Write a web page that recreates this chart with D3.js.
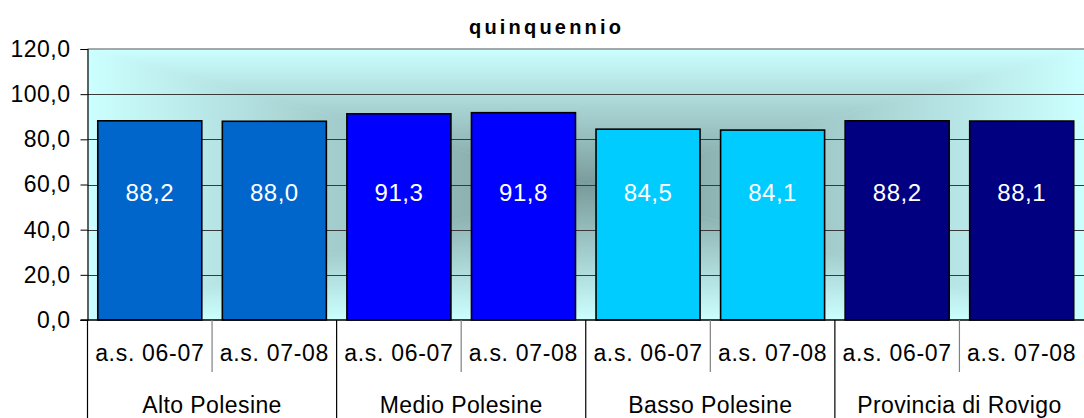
<!DOCTYPE html>
<html><head><meta charset="utf-8">
<script src="https://cdn.jsdelivr.net/npm/d3@7"></script>
<style>
body{margin:0;background:#fff}
svg{display:block}
text{font-family:"Liberation Sans",Arial,sans-serif}
</style></head><body>
<svg id="c" width="1084" height="418"></svg>
<script>
const title = "quinquennio";
const groups = ["Alto Polesine","Medio Polesine","Basso Polesine","Provincia di Rovigo"];
const years = ["a.s. 06-07","a.s. 07-08"];
const values = [88.2, 88.0, 91.3, 91.8, 84.5, 84.1, 88.2, 88.1];
const groupColors = ["#0066CC","#0000FF","#00CCFF","#000080"];
const yTicks = [0,20,40,60,80,100,120];

const svg = d3.select("#c");
const L = 87.5, R = 1084, T = 49, B = 320;
const cats = [];
groups.forEach((g,gi)=>years.forEach((yr,yi)=>cats.push({g,gi,yr,yi,key:gi+"-"+yi})));
cats.forEach((c,i)=>c.v = values[i]);

const x = d3.scaleBand().domain(cats.map(c=>c.key)).range([L,R]).paddingInner(0.165).paddingOuter(0.0825);
const y = d3.scaleLinear().domain([0,120]).range([B,T]);
const fmt = v => d3.format(".1f")(v).replace(".",",");

// gradient background (rectangular "from center")
const defs = svg.append("defs");
const cx = (L+R)/2, cy = (T+B)/2;
const light = "#ccffff", dark = "#7a9a9a";
const tris = [
  {id:"gT", pts:[[L,T],[R,T],[cx,cy]], g:[cx,T,cx,cy]},
  {id:"gB", pts:[[L,B],[R,B],[cx,cy]], g:[cx,B,cx,cy]},
  {id:"gL", pts:[[L,T],[L,B],[cx,cy]], g:[L,cy,cx,cy]},
  {id:"gR", pts:[[R,T],[R,B],[cx,cy]], g:[R,cy,cx,cy]}
];
tris.forEach(t=>{
  const lg = defs.append("linearGradient").attr("id",t.id).attr("gradientUnits","userSpaceOnUse")
    .attr("x1",t.g[0]).attr("y1",t.g[1]).attr("x2",t.g[2]).attr("y2",t.g[3]);
  lg.append("stop").attr("offset",0).attr("stop-color",light);
  lg.append("stop").attr("offset",1).attr("stop-color",dark);
});
const bg = svg.append("g");
tris.forEach(t=>{
  bg.append("polygon").attr("points",t.pts.map(p=>p.join(",")).join(" "))
    .attr("fill","url(#"+t.id+")").attr("stroke","url(#"+t.id+")").attr("stroke-width",0.6);
});

// gridlines
svg.append("g").selectAll("line").data(yTicks.filter(d=>d>0 && d<120)).join("line")
  .attr("x1",L).attr("x2",R).attr("y1",d=>Math.round(y(d))+0.5).attr("y2",d=>Math.round(y(d))+0.5)
  .attr("stroke","#3a3a3a").attr("stroke-width",1);
// top border
svg.append("line").attr("x1",L).attr("x2",R).attr("y1",y(120)).attr("y2",y(120))
  .attr("stroke","#8c8c8c").attr("stroke-width",1.5);

// bars
svg.append("g").selectAll("rect").data(cats).join("rect")
  .attr("x",d=>x(d.key)).attr("width",x.bandwidth())
  .attr("y",d=>y(d.v)).attr("height",d=>y(0)-y(d.v))
  .attr("fill",d=>groupColors[d.gi]).attr("stroke","#000").attr("stroke-width",1.6);

// bar labels
svg.append("g").selectAll("text").data(cats).join("text")
  .attr("x",d=>x(d.key)+x.bandwidth()/2).attr("y",y(56.5)).attr("dy","0.36em")
  .attr("text-anchor","middle").attr("fill","#fff").attr("font-size",24)
  .attr("letter-spacing",0.5)
  .text(d=>fmt(d.v));

// y axis
const yAxis = d3.axisLeft(y).tickValues(yTicks).tickSize(7).tickPadding(10).tickFormat(fmt);
const ga = svg.append("g").attr("transform",`translate(${L},0)`).call(yAxis);
ga.select(".domain").attr("stroke","#000").attr("stroke-width",1.2);
ga.selectAll(".tick line").attr("stroke","#000");
ga.selectAll(".tick text").attr("font-size",23).attr("fill","#000").attr("letter-spacing",0.5)
  .attr("font-family","Liberation Sans, Arial, sans-serif");

// x axis baseline
svg.append("line").attr("x1",L-7).attr("x2",R).attr("y1",B).attr("y2",B).attr("stroke","#000").attr("stroke-width",1.5);

// subcategory separators
const step = x.step();
const subBounds = d3.range(1,8).filter(i=>i%2===1).map(i=>L+i*step);
svg.append("g").selectAll("line").data(subBounds).join("line")
  .attr("x1",d=>d).attr("x2",d=>d).attr("y1",B).attr("y2",372)
  .attr("stroke","#808080").attr("stroke-width",1.2);
const grpBounds = d3.range(0,8).filter(i=>i%2===0).map(i=>L+i*step);
svg.append("g").selectAll("line").data(grpBounds).join("line")
  .attr("x1",d=>d).attr("x2",d=>d).attr("y1",B).attr("y2",418)
  .attr("stroke","#000").attr("stroke-width",1.2);

// subcategory labels
svg.append("g").selectAll("text").data(cats).join("text")
  .attr("x",d=>x(d.key)+x.bandwidth()/2).attr("y",353).attr("dy","0.36em")
  .attr("text-anchor","middle").attr("font-size",23).attr("letter-spacing",0.7).attr("fill","#000").text(d=>d.yr);
// group labels
svg.append("g").selectAll("text").data(groups).join("text")
  .attr("x",(d,i)=>L+(2*i+1)*step).attr("y",405).attr("dy","0.36em")
  .attr("text-anchor","middle").attr("font-size",23).attr("letter-spacing",0.4).attr("fill","#000").text(d=>d);

// title
svg.append("text").attr("x",545).attr("y",27).attr("dy","0.36em").attr("text-anchor","middle")
  .attr("font-size",20).attr("font-weight","bold").attr("fill","#000")
  .attr("textLength",152).attr("lengthAdjust","spacing").text(title);
</script>
</body></html>
